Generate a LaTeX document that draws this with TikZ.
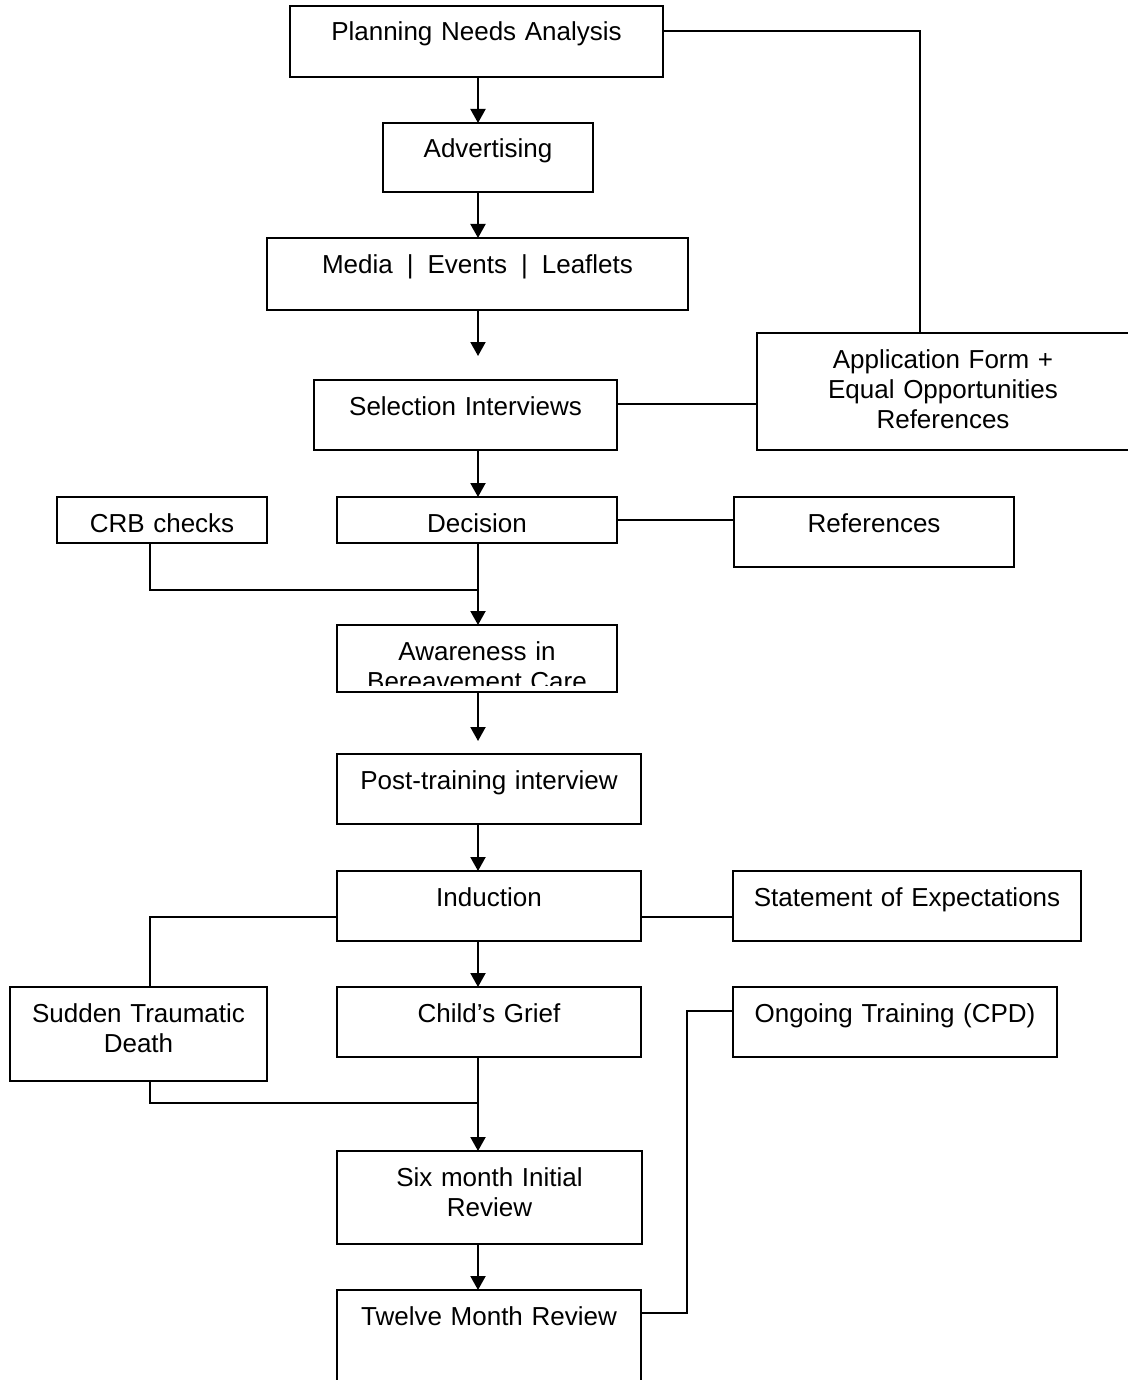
\documentclass[tikz,border=0pt]{standalone}
\usepackage{fontspec}
\setmainfont{Liberation Sans}
\usepackage{tikz}
\usetikzlibrary{arrows.meta}

\tikzset{
  every node/.style={font=\fontsize{26}{30}\selectfont, inner sep=0pt, outer sep=0pt,
    align=center, text height=35pt},
  stage/.style={draw, line width=2pt, anchor=north west, text width=#1},
  stagetext/.style={anchor=north, text width=#1},
}
\newcommand{\gapsep}{\hspace{14pt}|\hspace{14pt}}

\begin{document}
\begin{tikzpicture}[x=1pt,y=-1pt,line width=2pt,>={Triangle[width=15pt,length=14pt]}]
      \useasboundingbox (0,0) rectangle (1127,1380);
      \coordinate (trunk) at (478,0);
      \coordinate (lft) at (150,0);

      \node[stage=373pt,text depth=36pt] (plan) at (290,6) {Planning Needs Analysis};
      \node[stage=210pt,text depth=34pt] (adv) at (383,123) {Advertising};
      \node[stage=421pt,text depth=37pt] (media) at (267,238) {Media\gapsep Events\gapsep Leaflets};
      \node[stage=303pt,text depth=35pt] (select) at (314,380) {Selection Interviews};
      \node[stage=372pt,text depth=82pt] (appl) at (757,333)
        {Application Form +\\Equal Opportunities\\References};
      \node[stage=280pt,text depth=11pt] (decis) at (337,497) {Decision};
      \node[stage=210pt,text depth=11pt] (crb) at (57,497) {CRB checks};
      \node[stage=280pt,text depth=35pt] (refs) at (734,497) {References};
      \node[stage=280pt,text depth=32pt] (aware) at (337,625) {};
      \begin{scope}
        \clip (aware.north west) rectangle ([yshift=7pt]aware.south east);
        \node[stagetext=280pt] (aware-t) at (aware.north) {Awareness in\\Bereavement Care};
      \end{scope}
      \node[stage=304pt,text depth=35pt] (post) at (337,754) {Post-training interview};
      \node[stage=304pt,text depth=35pt] (induc) at (337,871) {Induction};
      \node[stage=348pt,text depth=35pt] (state) at (733,871) {Statement of Expectations};
      \node[stage=257pt,text depth=59pt] (sudden) at (10,987) {Sudden Traumatic\\Death};
      \node[stage=304pt,text depth=35pt] (child) at (337,987) {Child’s Grief};
      \node[stage=324pt,text depth=35pt] (ongoing) at (733,987) {Ongoing Training (CPD)};
      \node[stage=305pt,text depth=58pt] (six) at (337,1151) {Six month Initial\\Review};
      \node[stage=304pt,text depth=85pt] (twelve) at (337,1290) {Twelve Month Review};

      % main line
      \coordinate (c1) at (920,31);
      \draw (plan.east |- c1) -| (appl.north -| c1);
      \draw[->] (plan.south -| trunk) -- (adv.north -| trunk);
      \draw[->] (adv.south -| trunk) -- (media.north -| trunk);
      \coordinate (gap1) at (478,356);
      \draw[->] (media.south -| trunk) -- (gap1);
      \draw ([yshift=11pt]select.east) -- ([yshift=11pt]select.east -| appl.west);
      \draw[->] (select.south -| trunk) -- (decis.north -| trunk);
      \draw (decis.east) -- (decis.east -| refs.west);
      \coordinate (join1) at (478,590);
      \draw (crb.south -| lft) |- (join1);
      \draw[->] (decis.south -| trunk) -- (aware.north -| trunk);
      \coordinate (gap2) at (478,741);
      \draw[->] (aware.south -| trunk) -- (gap2);
      \draw[->] (post.south -| trunk) -- (induc.north -| trunk);

      % induction and after
      \draw ([yshift=-11pt]induc.east) -- ([yshift=-11pt]induc.east -| state.west);
      \draw ([yshift=-11pt]induc.west) -| (sudden.north -| lft);
      \draw[->] (induc.south -| trunk) -- (child.north -| trunk);
      \coordinate (join2) at (478,1103);
      \draw (sudden.south -| lft) |- (join2);
      \draw[->] (child.south -| trunk) -- (six.north -| trunk);
      \draw[->] (six.south -| trunk) -- (twelve.north -| trunk);
      \coordinate (cpd) at (687,1011);
      \draw ([yshift=-23pt]twelve.north east) -| (cpd) -- (cpd -| ongoing.west);
\end{tikzpicture}
\end{document}
